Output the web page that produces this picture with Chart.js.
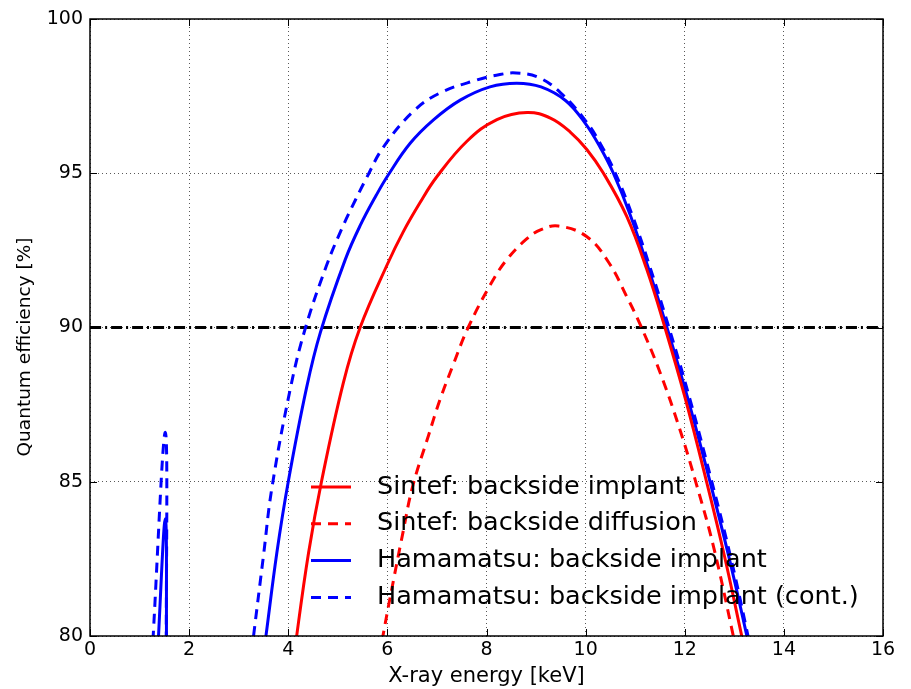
<!DOCTYPE html>
<html>
<head>
<meta charset="utf-8">
<script src="https://cdn.jsdelivr.net/npm/chart.js@4.4.1/dist/chart.umd.min.js"></script>
<style>
  html, body { margin: 0; padding: 0; background: #fff; }
  canvas { display: block; }
</style>
</head>
<body>
<canvas id="qeChart" width="911" height="689"></canvas>
<script>
'use strict';

// values (x in keV, y in %)
const sintefImplantX = [4.10, 4.17, 4.41, 4.67, 5.11, 5.45, 6.00, 6.32, 6.66, 6.99, 7.60, 8.21, 8.82, 9.30, 9.70, 10.02, 10.36, 10.83, 11.23, 11.60, 12.01, 12.44, 12.80, 13.15, 13.30];
const sintefImplantY = [79.0, 80.0, 82.7, 85.0, 88.2, 90.0, 92.05, 93.1, 94.05, 94.87, 96.03, 96.74, 96.97, 96.78, 96.32, 95.78, 95.0, 93.6, 91.9, 90.0, 87.7, 85.0, 82.6, 80.0, 78.9];

const sintefDiffusionX = [5.83, 5.91, 6.05, 6.32, 6.51, 6.83, 7.06, 7.33, 7.63, 8.10, 8.41, 8.81, 9.10, 9.45, 10.02, 10.47, 10.83, 11.10, 11.50, 11.90, 12.23, 12.58, 12.98, 13.12];
const sintefDiffusionY = [79.3, 80.0, 81.2, 83.4, 84.85, 86.5, 87.65, 88.8, 90.0, 91.45, 92.2, 92.87, 93.17, 93.29, 92.95, 92.1, 91.0, 90.1, 88.55, 86.7, 84.95, 82.9, 80.0, 78.9];

const hamaImplantX = [1.35, 1.52, 1.545, 2.50, 3.45, 3.55, 3.77, 4.00, 4.37, 4.65, 5.15, 5.45, 5.78, 6.02, 6.46, 6.93, 7.47, 8.07, 8.61, 9.10, 9.60, 10.00, 10.29, 10.56, 10.90, 11.25, 11.67, 12.07, 12.51, 12.90, 13.24, 13.40];
const hamaImplantY = [79.0, 83.8, 79.0, null, 78.8, 80.0, 82.7, 85.0, 88.05, 89.85, 92.2, 93.3, 94.3, 94.95, 95.97, 96.73, 97.37, 97.8, 97.92, 97.8, 97.35, 96.6, 95.85, 95.0, 93.65, 92.0, 89.85, 87.65, 85.0, 82.5, 80.1, 78.9];

const hamaContX = [1.25, 1.52, 1.54, 2.40, 3.22, 3.30, 3.50, 3.67, 4.04, 4.34, 4.77, 5.08, 5.36, 5.58, 5.92, 6.52, 7.06, 7.80, 8.27, 8.60, 9.06, 9.50, 10.00, 10.30, 10.60, 10.95, 11.30, 11.70, 12.10, 12.53, 12.92, 13.25, 13.40];
const hamaContY = [79.3, 86.6, 79.0, null, 78.9, 80.0, 82.6, 84.8, 88.0, 89.95, 92.0, 93.2, 94.15, 94.85, 95.85, 97.0, 97.6, 98.02, 98.2, 98.25, 98.1, 97.6, 96.7, 95.95, 95.0, 93.6, 91.95, 89.9, 87.7, 85.1, 82.6, 80.2, 79.0];

const limitX = [0, 16];
const limitY = [90, 90];

const xTickStep = 2;
const yTickStep = 5;

const xTitle = 'X-ray energy [keV]';
const yTitle = 'Quantum efficiency [%]';

function toPoints(xs, ys) {
    return xs.map((x, i) => ({ x: x, y: ys[i] }));
}

const fontFamily = '"DejaVu Sans", sans-serif';

// inward ticks on all four sides plus the black box round the plot
const framePlugin = {
    id: 'frame',
    afterDatasetsDraw(chart) {
        const { ctx, chartArea: a, scales: { x, y } } = chart;
        ctx.save();
        ctx.strokeStyle = '#000';
        ctx.lineWidth = 1;
        ctx.setLineDash([]);
        ctx.beginPath();
        x.ticks.forEach(t => {
            const px = Math.round(x.getPixelForValue(t.value)) + 0.5;
            ctx.moveTo(px, a.bottom); ctx.lineTo(px, a.bottom - 7);
            ctx.moveTo(px, a.top); ctx.lineTo(px, a.top + 7);
        });
        y.ticks.forEach(t => {
            const py = Math.round(y.getPixelForValue(t.value)) + 0.5;
            ctx.moveTo(a.left, py); ctx.lineTo(a.left + 7, py);
            ctx.moveTo(a.right, py); ctx.lineTo(a.right - 7, py);
        });
        ctx.stroke();
        ctx.lineWidth = 1.5;
        ctx.strokeRect(a.left, a.top, a.right - a.left, a.bottom - a.top);
        ctx.restore();
    }
};

// y label sits a little below the middle of the axis in the original
const yTitlePlugin = {
    id: 'yTitle',
    afterDraw(chart) {
        const ctx = chart.ctx;
        ctx.save();
        ctx.translate(25, 347);
        ctx.rotate(-Math.PI / 2);
        ctx.font = '18.5px ' + fontFamily;
        ctx.fillStyle = '#000';
        ctx.textAlign = 'center';
        ctx.textBaseline = 'middle';
        ctx.fillText(yTitle, 0, 0);
        ctx.restore();
    }
};

// legend sits inside the plot, lower middle, no box
const legendPlugin = {
    id: 'insideLegend',
    afterDraw(chart) {
        const ctx = chart.ctx;
        const shown = chart.data.datasets.filter(ds => ds.label);
        ctx.save();
        ctx.font = '25.5px ' + fontFamily;
        ctx.textBaseline = 'middle';
        ctx.fillStyle = '#000';
        shown.forEach((ds, i) => {
            const rowY = 487 + i * 36.8;
            ctx.strokeStyle = ds.borderColor;
            ctx.lineWidth = ds.borderWidth;
            ctx.setLineDash(ds.borderDash || []);
            ctx.beginPath();
            ctx.moveTo(311, rowY);
            ctx.lineTo(351, rowY);
            ctx.stroke();
            ctx.fillText(ds.label, 377, rowY);
        });
        ctx.restore();
    }
};

const canvasEl = document.getElementById('qeChart');

new Chart(canvasEl, {
    type: 'line',
    data: {
        datasets: [{
            label: 'Sintef: backside implant',
            data: toPoints(sintefImplantX, sintefImplantY),
            borderColor: '#ff0000',
            borderWidth: 3
        }, {
            label: 'Sintef: backside diffusion',
            data: toPoints(sintefDiffusionX, sintefDiffusionY),
            borderColor: '#ff0000',
            borderWidth: 3,
            borderDash: [10, 7]
        }, {
            label: 'Hamamatsu: backside implant',
            data: toPoints(hamaImplantX, hamaImplantY),
            borderColor: '#0000ff',
            borderWidth: 3
        }, {
            label: 'Hamamatsu: backside implant (cont.)',
            data: toPoints(hamaContX, hamaContY),
            borderColor: '#0000ff',
            borderWidth: 3,
            borderDash: [10, 7]
        }, {
            label: '',
            data: toPoints(limitX, limitY),
            borderColor: '#000000',
            borderWidth: 3,
            borderDash: [11, 4, 2, 4]
        }]
    },
    options: {
        responsive: false,
        animation: false,
        devicePixelRatio: 1,
        spanGaps: false,
        layout: { padding: { top: 19, right: 28, left: 0, bottom: 0 } },
        elements: {
            point: { radius: 0 },
            line: { tension: 0.4, capBezierPoints: false, fill: false }
        },
        plugins: {
            legend: { display: false },
            tooltip: { enabled: false }
        },
        scales: {
            x: {
                type: 'linear',
                min: 0,
                max: 16,
                ticks: { stepSize: xTickStep, color: '#000', padding: 3, font: { family: fontFamily, size: 19 } },
                grid: { color: 'rgba(0,0,0,0.65)', lineWidth: 1, drawTicks: false },
                border: { display: false, dash: [1, 3] },
                title: {
                    display: true,
                    text: xTitle,
                    color: '#000',
                    font: { family: fontFamily, size: 21 },
                    padding: { top: 0, bottom: 0 }
                },
                afterFit: scale => { scale.height = 53; }
            },
            y: {
                type: 'linear',
                min: 80,
                max: 100,
                ticks: { stepSize: yTickStep, color: '#000', padding: 7, font: { family: fontFamily, size: 19 } },
                grid: { color: 'rgba(0,0,0,0.65)', lineWidth: 1, drawTicks: false },
                border: { display: false, dash: [1, 3] },
                afterFit: scale => { scale.width = 90; }
            }
        }
    },
    plugins: [framePlugin, yTitlePlugin, legendPlugin]
});
</script>
</body>
</html>
